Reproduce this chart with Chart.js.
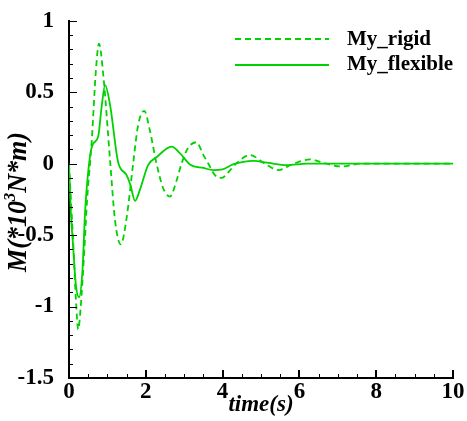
<!DOCTYPE html>
<html>
<head>
<meta charset="utf-8">
<script src="https://cdn.jsdelivr.net/npm/chart.js@4"></script>
<style>
html, body { margin: 0; padding: 0; background: #fff; }
#wrap { width: 467px; height: 421px; }
</style>
</head>
<body>
<div id="wrap"><canvas id="momentChart"></canvas></div>
<script>
// values
const rigidTime = [0, 0.05, 0.1, 0.18, 0.24, 0.3, 0.4, 0.47, 0.59, 0.7, 0.78, 0.9, 1.07, 1.2, 1.35, 1.5, 1.67, 1.8, 1.96, 2.1, 2.28, 2.45, 2.63, 2.8, 2.93, 3.1, 3.32, 3.5, 3.63, 3.8, 3.98, 4.15, 4.35, 4.71, 5.1, 5.45, 5.85, 6.28, 6.7, 7.1, 7.6, 8.5, 10];
const rigidMoment = [0, -0.25, -0.5, -0.95, -1.16, -1.02, -0.6, -0.26, 0.15, 0.65, 0.84, 0.6, 0.02, -0.4, -0.565, -0.38, 0, 0.27, 0.37, 0.24, 0, -0.17, -0.23, -0.12, 0, 0.11, 0.15, 0.06, 0, -0.08, -0.1, -0.06, 0, 0.06, 0, -0.045, 0, 0.03, 0, -0.02, 0, 0, 0];

const flexTime = [0, 0.05, 0.1, 0.18, 0.26, 0.35, 0.42, 0.55, 0.63, 0.76, 0.85, 0.94, 1.07, 1.28, 1.5, 1.6, 1.72, 1.85, 2.06, 2.28, 2.67, 2.9, 3.15, 3.5, 3.76, 4.0, 4.27, 4.8, 5.2, 5.67, 6.2, 7, 8, 10];
const flexMoment = [0, -0.35, -0.55, -0.85, -0.935, -0.75, -0.33, 0.06, 0.14, 0.19, 0.4, 0.55, 0.41, 0.01, -0.08, -0.15, -0.26, -0.18, -0.01, 0.045, 0.12, 0.07, -0.005, -0.03, -0.045, -0.04, -0.005, 0.02, 0.005, -0.01, 0, 0, 0, 0];

const xTicks = [0, 2, 4, 6, 8, 10];
const yTicks = [-1.5, -1, -0.5, 0, 0.5, 1];

const green = 'rgb(0,210,0)';
const serif = "'Liberation Serif', 'Times New Roman', serif";

const toPoints = (xs, ys) => xs.map((x, i) => ({ x: x, y: ys[i] }));

// inward ticks, axis titles and legend
const decor = {
    id: 'decor',
    beforeDraw(chart) {
        // y title with superscript, drawn first so tick labels sit on top
        const ctx = chart.ctx;
        ctx.save();
        ctx.fillStyle = '#000';
        ctx.translate(26, 202);
        ctx.rotate(-Math.PI / 2);
        ctx.textAlign = 'left';
        ctx.textBaseline = 'alphabetic';
        const big = 'italic bold 27px ' + serif;
        const small = 'italic bold 17px ' + serif;
        const parts = [['M', big, 0], ['(*10', big, 0], ['3', small, -11], ['N*m)', big, 0]];
        let w = 0;
        parts.forEach(p => { ctx.font = p[1]; w += ctx.measureText(p[0]).width; });
        ctx.scale(140 / w, 1);
        let cx = -w / 2;
        parts.forEach(p => {
            ctx.font = p[1];
            ctx.fillText(p[0], cx, p[2]);
            cx += ctx.measureText(p[0]).width;
        });
        ctx.restore();
    },
    afterDraw(chart) {
        const { ctx, chartArea: a, scales: { x, y } } = chart;
        ctx.save();
        ctx.strokeStyle = '#000';
        ctx.lineWidth = 1;
        ctx.beginPath();
        for (let i = 0; i <= 20; i++) {
            const px = Math.round(x.getPixelForValue(i * 0.5)) + 0.5;
            const len = i % 4 === 0 ? 8 : 4;
            ctx.moveTo(px, a.bottom);
            ctx.lineTo(px, a.bottom - len);
        }
        for (let i = 0; i <= 25; i++) {
            const py = Math.round(y.getPixelForValue(-1.5 + i * 0.1)) + 0.5;
            const len = i % 5 === 0 ? 8 : 4;
            ctx.moveTo(a.left, py);
            ctx.lineTo(a.left + len, py);
        }
        ctx.stroke();
        ctx.lineWidth = 2;
        ctx.beginPath();
        for (const v of xTicks) {
            const px = Math.round(x.getPixelForValue(v));
            ctx.moveTo(px, a.bottom);
            ctx.lineTo(px, a.bottom - 8);
        }
        ctx.stroke();

        // x title
        ctx.fillStyle = '#000';
        ctx.font = 'italic bold 23px ' + serif;
        ctx.textAlign = 'center';
        ctx.textBaseline = 'alphabetic';
        ctx.fillText('time(s)', (a.left + a.right) / 2, 411);

        // legend
        ctx.strokeStyle = green;
        ctx.lineWidth = 2;
        ctx.setLineDash([6, 4]);
        ctx.beginPath();
        ctx.moveTo(235, 39);
        ctx.lineTo(329, 39);
        ctx.stroke();
        ctx.setLineDash([]);
        ctx.beginPath();
        ctx.moveTo(235, 65);
        ctx.lineTo(329, 65);
        ctx.stroke();
        ctx.font = 'bold 21px ' + serif;
        ctx.textAlign = 'left';
        ctx.textBaseline = 'middle';
        ctx.fillText('My_rigid', 347, 40);
        ctx.fillText('My_flexible', 347, 65);
        ctx.restore();
    }
};

const ctx = document.getElementById('momentChart').getContext('2d');
new Chart(ctx, {
    type: 'line',
    data: {
        datasets: [{
            label: 'My_rigid',
            data: toPoints(rigidTime, rigidMoment),
            borderColor: green,
            borderWidth: 1.8,
            borderDash: [6, 4],
            pointRadius: 0,
            fill: false,
            cubicInterpolationMode: 'monotone'
        }, {
            label: 'My_flexible',
            data: toPoints(flexTime, flexMoment),
            borderColor: green,
            borderWidth: 1.8,
            pointRadius: 0,
            fill: false,
            cubicInterpolationMode: 'monotone'
        }]
    },
    options: {
        responsive: true,
        maintainAspectRatio: false,
        animation: false,
        layout: { padding: { top: 18, right: 14, left: 0, bottom: 0 } },
        plugins: { legend: { display: false }, tooltip: { enabled: false } },
        scales: {
            x: {
                type: 'linear',
                min: 0,
                max: 10,
                afterBuildTicks: s => { s.ticks = xTicks.map(v => ({ value: v })); },
                afterFit: s => { s.height = 43; },
                grid: { display: false },
                border: { display: true, color: '#000', width: 2 },
                ticks: {
                    color: '#000',
                    padding: -8,
                    maxRotation: 0,
                    callback: v => String(v),
                    font: { family: serif, size: 23, weight: 'bold' }
                }
            },
            y: {
                min: -1.5,
                max: 1,
                afterBuildTicks: s => { s.ticks = yTicks.map(v => ({ value: v })); },
                afterFit: s => { s.width = 69; },
                grid: { display: false },
                border: { display: true, color: '#000', width: 2 },
                ticks: {
                    color: '#000',
                    padding: 7,
                    callback: v => String(v),
                    font: { family: serif, size: 23, weight: 'bold' }
                }
            }
        }
    },
    plugins: [decor]
});
</script>
</body>
</html>
